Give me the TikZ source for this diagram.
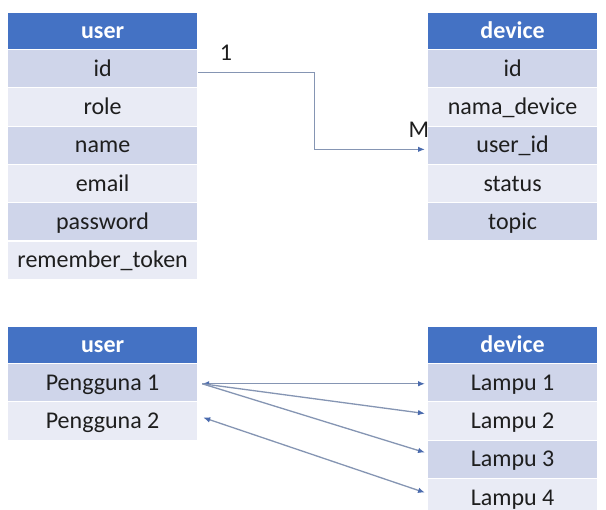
\documentclass[tikz,border=0pt]{standalone}
\usepackage{fontspec}
\setmainfont{Carlito}
\usetikzlibrary{arrows.meta}
\definecolor{hdr}{HTML}{4472C4}
\definecolor{rowA}{HTML}{CFD5EA}
\definecolor{rowB}{HTML}{E9EBF5}
\definecolor{conn}{HTML}{8595B3}
\definecolor{tipc}{HTML}{4A6BAE}
\definecolor{txt}{HTML}{1E1E1E}
\begin{document}
\begin{tikzpicture}[x=1pt,y=-1pt,
  cell/.style={draw=white,line width=1.2pt,inner sep=0pt,anchor=north west,
    minimum height=38.3pt,text height=20pt,text depth=5pt,
    font=\fontsize{24}{24}\selectfont,text=txt},
  wide/.style={minimum width=190pt},
  narrow/.style={minimum width=170pt},
  hcell/.style={cell,fill=hdr,minimum height=37pt,text=white,font=\fontsize{24}{24}\selectfont\bfseries},
  dk/.style={cell,fill=rowA},
  lt/.style={cell,fill=rowB},
  link/.style={draw=conn,line width=1.3pt},
  lbl/.style={font=\fontsize{24}{24}\selectfont,text=txt,inner sep=0pt}
]
\useasboundingbox (0,0) rectangle (606,510);
\clip (0,0) rectangle (606,510);
\fill[white] (0,0) rectangle (606,510);

% ---- top left table: user
\node[hcell,wide] (uh) at (7,12) {user};
\node[dk,wide] (uid) at (7,49) {id};
\node[lt,wide] (urole) at (7,87.3) {role};
\node[dk,wide] (uname) at (7,125.6) {name};
\node[lt,wide] (uemail) at (7,163.9) {email};
\node[dk,wide] (upass) at (7,202.2) {password};
\node[lt,wide] (utok) at (7,240.5) {remember\_token};

% ---- top right table: device
\node[hcell,narrow] (dh) at (427,12) {device};
\node[dk,narrow] (did) at (427,49) {id};
\node[lt,narrow] (dnama) at (427,87.3) {nama\_device};
\node[dk,narrow] (duid) at (427,125.6) {user\_id};
\node[lt,narrow] (dstat) at (427,163.9) {status};
\node[dk,narrow] (dtopic) at (427,202.2) {topic};

% ---- relation
\draw[link,-{Latex[length=7pt,width=5.5pt,color=tipc]}]
  ([yshift=-4pt]uid.east) -- ++(116,0) |- ([xshift=-2pt,yshift=-4pt]duid.west);
\node[lbl] (one) at (226,53) {1};
\node[lbl] (many) at (419,130) {M};

% ---- bottom left table
\node[hcell,wide] (bh) at (7,326) {user};
\node[dk,wide] (p1) at (7,363) {Pengguna 1};
\node[lt,wide] (p2) at (7,401.3) {Pengguna 2};

% ---- bottom right table
\node[hcell,narrow] (bdh) at (427,326) {device};
\node[dk,narrow] (l1) at (427,363) {Lampu 1};
\node[lt,narrow] (l2) at (427,401.3) {Lampu 2};
\node[dk,narrow] (l3) at (427,439.6) {Lampu 3};
\node[lt,narrow] (l4) at (427,477.9) {Lampu 4};

% ---- bottom links
\draw[link,{Latex[length=7pt,width=5.5pt,color=tipc]}-{Latex[length=7pt,width=5.5pt,color=tipc]}]
  ([xshift=4pt,yshift=-1pt]p1.east) -- ([xshift=-2pt,yshift=-1pt]l1.west);
\draw[link,-{Latex[length=7pt,width=5.5pt,color=tipc]}]
  ([xshift=4pt,yshift=-1pt]p1.east) -- ([xshift=-2pt,yshift=7.5pt]l2.west);
\draw[link,-{Latex[length=7pt,width=5.5pt,color=tipc]}]
  ([xshift=4pt,yshift=-1pt]p1.east) -- ([xshift=-2pt,yshift=6.8pt]l3.west);
\draw[link,{Latex[length=7pt,width=5.5pt,color=tipc]}-{Latex[length=7pt,width=5.5pt,color=tipc]}]
  ([xshift=5pt,yshift=3.5pt]p2.east) -- ([xshift=-2pt,yshift=5pt]l4.west);
\end{tikzpicture}
\end{document}
